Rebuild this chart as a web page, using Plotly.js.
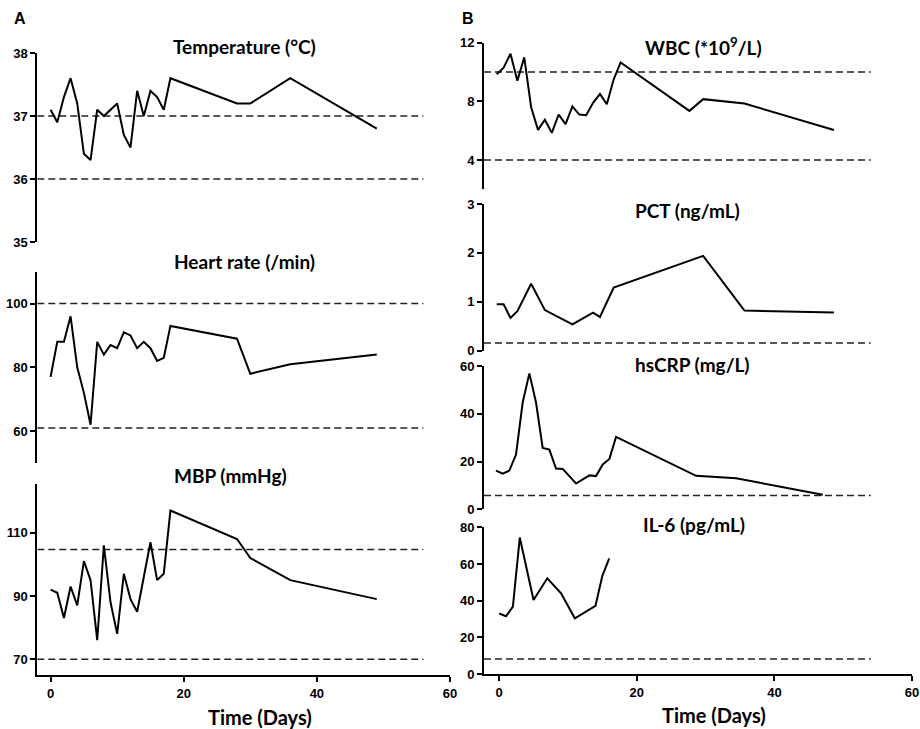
<!DOCTYPE html>
<html>
<head>
<meta charset="utf-8">
<script src="https://cdn.plot.ly/plotly-3.0.1.min.js"></script>
<style>html,body{margin:0;padding:0;background:#fff;}#chart{width:920px;height:729px;}</style>
</head>
<body>
<div id="chart"></div>
<script>
// ---- Data ----
const tempDays = [0,1,2,3,4,5,6,7,8,10,11,12,13,14,15,16,17,18,28,30,36,49];
const tempVals = [37.1,36.9,37.3,37.6,37.2,36.4,36.3,37.1,37.0,37.2,36.7,36.5,37.4,37.0,37.4,37.3,37.1,37.6,37.2,37.2,37.6,36.8];

const hrDays = [0,1,2,3,4,5,6,7,8,9,10,11,12,13,14,15,16,17,18,28,30,36,49];
const hrVals = [77,88,88,96,80,72,62,88,84,87,86,91,90,86,88,86,82,83,93,89,78,81,84];

const mbpDays = [0,1,2,3,4,5,6,7,8,9,10,11,12,13,14,15,16,17,18,28,30,36,49];
const mbpVals = [92,91,83,93,87,101,95,76,106,88,78,97,89,85,96,107,95,97,117,108,102,95,89];

const wbcDays = [0,1,2,3,4,5,6,7,8,9,10,11,12,13,14,15,16,17,18,28,30,36,49];
const wbcVals = [9.85,10.3,11.25,9.4,11.0,7.6,6.05,6.75,5.85,7.1,6.45,7.65,7.1,7.05,7.9,8.5,7.8,9.5,10.65,7.35,8.15,7.85,6.05];

const pctDays = [0,1,2,3,5,7,11,14,15,17,30,36,49];
const pctVals = [0.95,0.95,0.67,0.81,1.37,0.83,0.54,0.78,0.69,1.29,1.94,0.82,0.78];

const crpDays = [0,1,2,3,4,5,6,7,8,9,10,12,14,15,16,17,18,30,36,49];
const crpVals = [16.2,14.9,16.2,22.9,44.7,56.9,44.7,25.7,25,17.1,16.9,10.8,14.2,13.9,18.8,21.1,30.3,14,13,6.1];

const il6Days = [0,1,2,3,5,7,9,11,14,15,16];
const il6Vals = [33,31.5,36.7,74.4,40.4,52.2,44,30.4,37.1,53.5,63.1];

// reference (normal-range) lines
const tempRefs = [37, 36];
const hrRefs = [100, 61];
const mbpRefs = [104.7, 70];
const wbcRefs = [10, 4];
const pctRefs = [0.16];
const crpRefs = [5.8];
const il6Refs = [8.2];
const leftRefSpan = [-2, 56];
const rightRefSpan = [-2.2, 54];

const panelTitles = ['Temperature (°C)','Heart rate (/min)','MBP (mmHg)','WBC (*10<sup>9</sup>/L)','PCT (ng/mL)','hsCRP (mg/L)','IL-6 (pg/mL)'];
const xTicks = [0,20,40,60];

// ---- Build ----
const W = 920, H = 729;
const px = v => v / W;
const py = v => 1 - v / H;

const traces = [];
function dataLine(x, y, xa, ya) {
  traces.push({x: x, y: y, xaxis: xa, yaxis: ya, type: 'scatter', mode: 'lines',
    line: {color: '#000', width: 2}, hoverinfo: 'skip', showlegend: false});
}
function refLines(vals, span, xa, ya) {
  vals.forEach(v => traces.push({x: span, y: [v, v], xaxis: xa, yaxis: ya, type: 'scatter', mode: 'lines',
    line: {color: '#222', width: 1.5, dash: '7px,4px'}, hoverinfo: 'skip', showlegend: false}));
}

refLines(tempRefs, leftRefSpan, 'x', 'y');
refLines(hrRefs, leftRefSpan, 'x', 'y2');
refLines(mbpRefs, leftRefSpan, 'x', 'y3');
refLines(wbcRefs, rightRefSpan, 'x2', 'y4');
refLines(pctRefs, rightRefSpan, 'x2', 'y5');
refLines(crpRefs, rightRefSpan, 'x2', 'y6');
refLines(il6Refs, rightRefSpan, 'x2', 'y7');

dataLine(tempDays, tempVals, 'x', 'y');
dataLine(hrDays, hrVals, 'x', 'y2');
dataLine(mbpDays, mbpVals, 'x', 'y3');
dataLine(wbcDays, wbcVals, 'x3', 'y4');
dataLine(pctDays, pctVals, 'x3', 'y5');
dataLine(crpDays, crpVals, 'x4', 'y6');
dataLine(il6Days, il6Vals, 'x2', 'y7');

const tickFont = {family: 'Liberation Sans, Arial, sans-serif', size: 13, color: '#000', weight: 'bold'};
function yax(domTop, domBot, range, tickvals, anchor) {
  return {domain: [py(domBot), py(domTop)], range: range, tickvals: tickvals, anchor: anchor,
    showline: true, linewidth: 2, linecolor: '#000', ticks: 'outside', ticklen: 5, tickwidth: 2, tickcolor: '#000',
    showgrid: false, zeroline: false, tickfont: tickFont, fixedrange: true, ticklabeloverflow: 'allow'};
}
function xax(d0, d1, range, anchor) {
  return {domain: [px(d0), px(d1)], range: range, anchor: anchor, tickvals: xTicks,
    showline: true, linewidth: 2, linecolor: '#000', ticks: 'outside', ticklen: 5, tickwidth: 2, tickcolor: '#000',
    showgrid: false, zeroline: false, tickfont: tickFont, fixedrange: true, ticklabeloverflow: 'allow'};
}

const titleFont = {family: 'Lato, Open Sans, sans-serif', size: 19, color: '#000', weight: 'bold'};
const annotations = [];
function ann(text, x, y, font, xanchor) {
  annotations.push({text: text, x: px(x), y: py(y), xref: 'paper', yref: 'paper', showarrow: false,
    xanchor: xanchor || 'left', yanchor: 'middle', font: font});
}
ann(panelTitles[0], 171, 47, titleFont);
ann(panelTitles[1], 172, 261, titleFont);
ann(panelTitles[2], 172, 476, titleFont);
ann(panelTitles[3], 643, 47, titleFont);
ann(panelTitles[4], 633, 211, titleFont);
ann(panelTitles[5], 633, 364, titleFont);
ann(panelTitles[6], 641, 524, titleFont);
const labelFont = {family: 'Liberation Sans, Arial, sans-serif', size: 16, color: '#000', weight: 'bold'};
ann('A', 12, 19, labelFont);
ann('B', 460, 19, labelFont);
const axTitleFont = {family: 'Lato, Open Sans, sans-serif', size: 20, color: '#000', weight: 'bold'};
ann('Time (Days)', 260, 717, axTitleFont, 'center');
ann('Time (Days)', 714, 715, axTitleFont, 'center');

const layout = {
  width: W, height: H,
  margin: {l: 0, r: 0, t: 0, b: 0, pad: 0},
  paper_bgcolor: '#fff', plot_bgcolor: 'rgba(0,0,0,0)',
  showlegend: false,
  xaxis: xax(37.3, 450, [-2, 60], 'y3'),
  xaxis2: xax(484, 912, [-2.2, 60], 'y7'),
  xaxis3: Object.assign(xax(484, 912, [-1.85, 60.35], 'y4'), {visible: false}),
  xaxis4: Object.assign(xax(484, 912, [-1.8, 62.37], 'y6'), {visible: false}),
  yaxis: yax(53, 242, [35, 38], [35,36,37,38], 'x'),
  yaxis2: yax(271.7, 463, [50, 110], [60,80,100], 'x'),
  yaxis3: yax(484, 675, [65, 125.4], [70,90,110], 'x'),
  yaxis4: yax(42.7, 189.3, [2, 12], [4,8,12], 'x3'),
  yaxis5: yax(204, 350.7, [0, 3], [0,1,2,3], 'x3'),
  yaxis6: yax(366, 509.3, [0, 60], [0,20,40,60], 'x4'),
  yaxis7: yax(527.3, 674, [0, 80], [0,20,40,60,80], 'x2'),
  annotations: annotations
};

Plotly.newPlot('chart', traces, layout, {displayModeBar: false, staticPlot: true});
</script>
</body>
</html>
